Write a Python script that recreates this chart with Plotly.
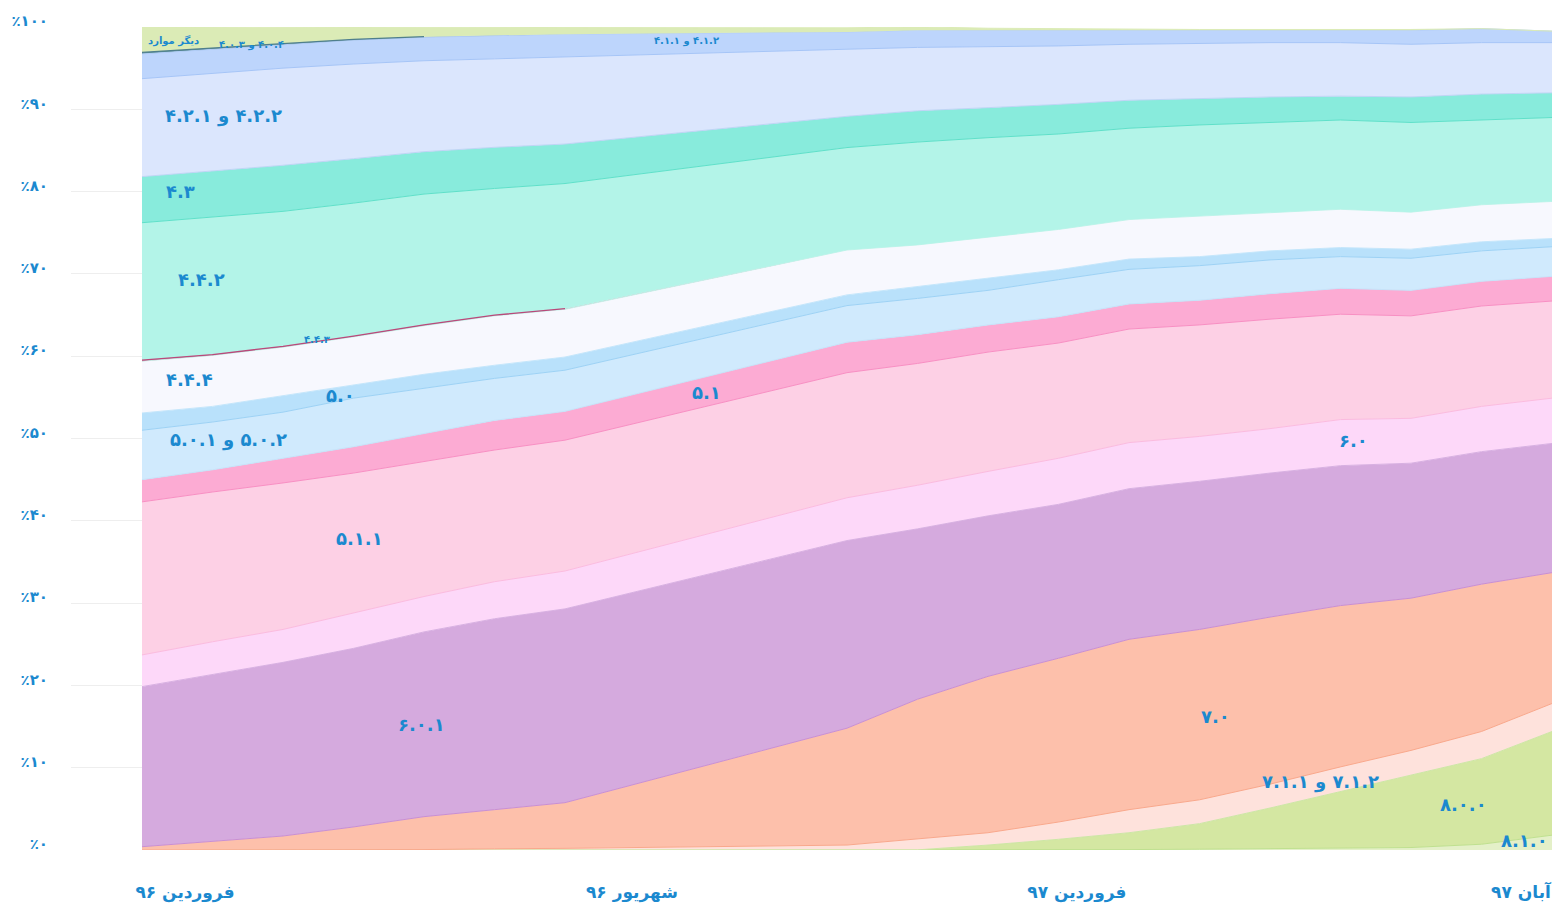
import plotly.graph_objects as go

RLM = "\u200f"

# month index of each observation (no observations for months 7-9)
months = [0, 1, 2, 3, 4, 5, 6, 10, 11, 12, 13, 14, 15, 16, 17, 18, 19, 20]
x_810 = [14, 15, 16, 17, 18, 19, 20]
x_800 = [11, 12, 13, 14, 15, 16, 17, 18, 19, 20]
x_71 = [4, 5, 6, 10, 11, 12, 13, 14, 15, 16, 17, 18, 19, 20]
x_443 = [0, 1, 2, 3, 4, 5, 6]
x_404 = [0, 1, 2, 3, 4]
x_other = [0, 1, 2, 3, 4, 5, 6, 10, 11, 12, 13, 14, 15, 16, 17, 18]

# share of each Android version (%)
v_810 = [0.05, 0.1, 0.15, 0.2, 0.3, 0.7, 1.8]
v_800 = [0.02, 0.6, 1.3, 2.05, 3.1, 4.95, 6.9, 8.8, 10.4, 12.6]
v_71 = [0.05, 0.15, 0.2, 0.6, 1.3, 1.5, 2.1, 2.8, 2.9, 2.9, 3.0, 3.0, 3.3, 3.4]
v_70 = [0.4, 1.05, 1.7, 2.8, 4.0, 4.75, 5.55, 14.2, 17.0, 19.0, 19.9, 20.7, 20.7, 20.3, 19.6, 18.5, 17.9, 15.9]
v_601 = [19.45, 20.25, 21.1, 21.7, 22.45, 23.2, 23.55, 22.8, 20.7, 19.5, 18.7, 18.3, 18.0, 17.5, 17.0, 16.4, 16.1, 15.7]
v_60 = [3.85, 4.0, 4.0, 4.3, 4.3, 4.5, 4.6, 5.2, 5.3, 5.4, 5.6, 5.6, 5.45, 5.4, 5.6, 5.45, 5.5, 5.5]
v_511 = [18.6, 18.2, 17.8, 17.0, 16.4, 16.0, 15.9, 15.2, 14.8, 14.5, 14.0, 13.8, 13.55, 13.3, 12.8, 12.45, 12.2, 11.8]
v_51 = [2.7, 2.7, 3.0, 3.2, 3.4, 3.6, 3.5, 3.7, 3.5, 3.3, 3.2, 3.05, 3.0, 3.1, 3.15, 3.1, 3.0, 3.0]
v_502 = [6.0, 5.8, 5.6, 5.9, 5.5, 5.1, 5.0, 4.45, 4.4, 4.2, 4.5, 4.2, 4.2, 4.1, 3.85, 3.9, 3.7, 3.6]
v_50 = [2.1, 1.9, 2.0, 1.6, 1.7, 1.6, 1.6, 1.3, 1.45, 1.4, 1.2, 1.25, 1.1, 1.1, 1.1, 1.1, 1.1, 1.0]
v_444 = [6.3, 6.2, 5.9, 5.85, 5.9, 6.0, 5.8, 5.45, 5.05, 5.1, 4.9, 4.8, 4.9, 4.6, 4.65, 4.5, 4.5, 4.5]
v_443 = [0.12, 0.1, 0.1, 0.1, 0.1, 0.08, 0.08]
v_442 = [16.7, 16.7, 16.4, 16.15, 15.9, 15.4, 15.2, 12.45, 12.5, 12.05, 11.6, 11.1, 11.1, 11.0, 10.85, 10.9, 10.3, 10.2]
v_43 = [5.6, 5.6, 5.6, 5.4, 5.15, 5.0, 4.8, 3.8, 3.8, 3.65, 3.6, 3.4, 3.2, 3.1, 2.9, 3.1, 3.15, 3.0]
v_42 = [11.9, 11.9, 11.8, 11.5, 11.05, 10.75, 10.6, 8.15, 7.7, 7.4, 7.1, 6.8, 6.7, 6.6, 6.5, 6.4, 6.25, 6.1]
v_41 = [3.0, 2.9, 2.9, 2.9, 2.85, 2.85, 2.75, 2.1, 2.1, 2.0, 1.9, 1.7, 1.6, 1.5, 1.5, 1.7, 1.7, 1.4]
v_404 = [0.2, 0.15, 0.12, 0.1, 0.08]
v_other = [3.1, 2.5, 1.95, 1.5, 1.15, 0.9, 0.8, 0.5, 0.4, 0.25, 0.2, 0.1, 0.1, 0.1, 0.1, 0.1]

x_tick_pos = [0.61, 6.95, 13.26, 19.56]
x_tick_text = ["فروردین ۹۶", "شهریور ۹۶", "فروردین ۹۷", "آبان ۹۷"]
y_tick_vals = [0, 10, 20, 30, 40, 50, 60, 70, 80, 90, 100]
y_tick_text = ["٪۰", "٪۱۰", "٪۲۰", "٪۳۰", "٪۴۰", "٪۵۰", "٪۶۰", "٪۷۰", "٪۸۰", "٪۹۰", "٪۱۰۰"]

names = ["۸.۱.۰", "۸.۰.۰", "۷.۱.۲ و ۷.۱.۱", "۷.۰", "۶.۰.۱", "۶.۰", "۵.۱.۱", "۵.۱",
         "۵.۰.۲ و ۵.۰.۱", "۵.۰", "۴.۴.۴", "۴.۴.۳", "۴.۴.۲", "۴.۳", "۴.۲.۲ و ۴.۲.۱",
         "۴.۱.۲ و ۴.۱.۱", "۴.۰.۴ و ۴.۰.۳", "دیگر موارد"]
xs = [x_810, x_800, x_71, months, months, months, months, months, months, months,
      months, x_443, months, months, months, months, x_404, x_other]
ys = [v_810, v_800, v_71, v_70, v_601, v_60, v_511, v_51, v_502, v_50, v_444, v_443,
      v_442, v_43, v_42, v_41, v_404, v_other]
fills = ["#e4f0c8", "#d4e7a2", "#fee2dc", "#fdc0ab", "#d5aade", "#fdd8f9", "#fdd0e5",
         "#fcabd3", "#d0eafd", "#b9e1fb", "#f7f8fe", "#c4527f", "#b3f4e8", "#88ebdc",
         "#dbe6fd", "#bdd5fc", "#5b8f96", "#dbebb6"]
lines = ["#bfe08f", "#cde6a5", "#f9a88c", "#c98fd2", "#d8b0e2", "#fbbbdf", "#f88fc3",
         "#c6e3f9", "#9dd2f5", "#c4e6fb", "#c5f3ea", None, "#5fe0c9", "#bfd5f5",
         "#a6c5f7", "#b2cdf8", None, "#dbebb6"]
# series that only exist for part of the period get their own edge stroke
edge_strokes = {11: "#b9497a", 16: "#4f7f8c"}

fig = go.Figure()
for n, x, y, fc, lc in zip(names, xs, ys, fills, lines):
    fig.add_trace(go.Scatter(
        x=x, y=y, name=n, mode="lines", stackgroup="one",
        fillcolor=fc,
        line=dict(color=lc or fc, width=1 if lc else 0),
        hoverinfo="skip",
    ))


def stacked_top(idx):
    """Top of the stack through series idx, at the months where series idx exists."""
    out = []
    for m in xs[idx]:
        total = 0.0
        for j in range(idx + 1):
            if m in xs[j]:
                total += ys[j][xs[j].index(m)]
        out.append(total)
    return out


for idx, col in edge_strokes.items():
    fig.add_trace(go.Scatter(
        x=xs[idx], y=stacked_top(idx), mode="lines",
        line=dict(color=col, width=1.3), hoverinfo="skip", showlegend=False,
    ))

TXT = "#1b89cf"
FONT = "DejaVu Sans"
labels = [
    ("دیگر موارد", 0.45, 98.3, 10, "center"),
    (RLM + "۴.۰.۴ و ۴.۰.۳", 1.55, 97.8, 10, "center"),
    (RLM + "۴.۱.۲ و ۴.۱.۱", 7.72, 98.3, 10, "center"),
    (RLM + "۴.۲.۲ و ۴.۲.۱", 1.16, 89.2, 18, "center"),
    ("۴.۳", 0.54, 80.0, 18, "center"),
    ("۴.۴.۲", 0.84, 69.3, 18, "center"),
    ("۴.۴.۳", 2.48, 62.0, 10, "center"),
    ("۴.۴.۴", 0.68, 57.2, 18, "center"),
    ("۵.۰", 2.81, 55.2, 18, "center"),
    (RLM + "۵.۰.۲ و ۵.۰.۱", 1.22, 49.8, 18, "center"),
    ("۵.۱", 8.01, 55.6, 18, "center"),
    ("۵.۱.۱", 3.09, 37.9, 18, "center"),
    ("۶.۰", 17.18, 49.7, 18, "center"),
    ("۶.۰.۱", 3.96, 15.2, 18, "center"),
    ("۷.۰", 15.23, 16.2, 18, "center"),
    (RLM + "۷.۱.۲ و ۷.۱.۱", 16.71, 8.3, 18, "center"),
    ("۸.۰.۰", 18.75, 5.5, 18, "center"),
    ("۸.۱.۰", 19.97, 1.2, 18, "right"),
]
for t, x, y, s, anchor in labels:
    fig.add_annotation(x=x, y=y, text=t, showarrow=False, xanchor=anchor,
                       font=dict(family=FONT, size=s, color=TXT, weight="bold"))

fig.update_layout(
    width=1557, height=910,
    margin=dict(l=71, r=5, t=27, b=60),
    paper_bgcolor="white", plot_bgcolor="white",
    showlegend=False, hovermode=False,
    font=dict(family=FONT, color=TXT),
)
fig.update_xaxes(range=[-1.007, 20], tickvals=x_tick_pos, ticktext=x_tick_text,
                 showgrid=False, zeroline=False, showline=False, ticks="",
                 ticklabelstandoff=30,
                 tickfont=dict(family=FONT, size=17, color=TXT, weight="bold"))
fig.update_yaxes(range=[0, 100], tickvals=y_tick_vals, ticktext=y_tick_text,
                 showgrid=True, gridcolor="#eeeeee", gridwidth=1, zeroline=False,
                 showline=False, ticks="", ticklabelstandoff=22, ticklabelshift=-6,
                 tickfont=dict(family=FONT, size=15, color=TXT, weight="bold"))

fig.write_html("out.html", config={"displayModeBar": False},
               post_script="document.body.style.margin='0';")
